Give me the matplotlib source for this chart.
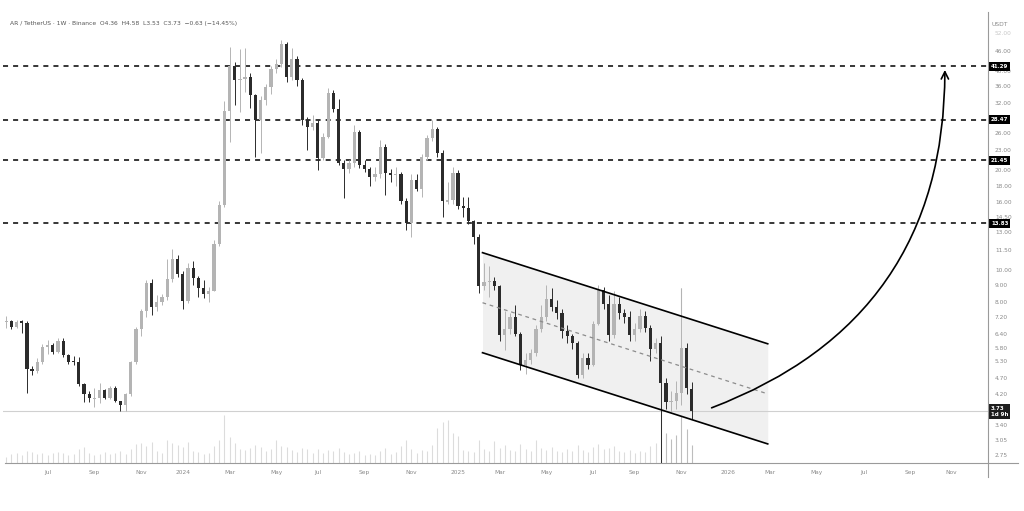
import numpy as np
import pandas as pd
import matplotlib
matplotlib.use("Agg")
import matplotlib.pyplot as plt
from matplotlib.patches import FancyArrowPatch
from matplotlib.lines import Line2D

# weekly AR/USDT candles, first week starts 2023-05-08
start_week = "2023-05-08"

opens = [6.95, 7.00, 6.70, 7.00, 6.90, 5.00, 4.93, 5.25, 5.85, 5.92,
         5.65, 6.10, 5.52, 5.26, 5.25, 4.51, 4.20, 4.07, 4.09, 4.32,
         4.09, 4.40, 4.01, 3.90, 4.20, 5.26, 6.62, 7.50, 9.13, 7.72,
         8.00, 8.27, 9.40, 10.80, 9.71, 8.05, 10.13, 9.44, 8.81, 8.45,
         8.63, 11.97, 15.70, 30.30, 41.40, 37.60, 37.90, 38.40, 33.80, 28.40,
         32.70, 35.80, 40.60, 42.00, 48.30, 38.40, 43.50, 37.60, 28.40, 27.10,
         27.80, 21.80, 25.30, 34.30, 30.70, 21.10, 20.20, 21.10, 26.20, 20.80,
         20.20, 19.10, 19.50, 23.60, 19.60, 19.40, 19.50, 16.20, 13.83, 18.70,
         17.60, 22.00, 25.10, 26.70, 22.60, 16.10, 16.30, 19.60, 15.60, 15.40,
         14.05, 12.60, 8.94, 9.19, 9.25, 8.94, 6.35, 6.62, 7.20, 6.40,
         5.15, 5.33, 5.60, 6.62, 7.20, 8.16, 7.72, 7.40, 6.53, 6.31,
         6.00, 4.80, 5.41, 5.15, 6.86, 8.69, 7.88, 6.35, 7.88, 7.40,
         7.20, 6.35, 6.62, 7.25, 6.67, 5.76, 6.00, 4.54, 3.98, 4.01,
         4.23, 5.80, 4.36]
highs = [7.25, 7.05, 7.05, 7.05, 7.00, 5.10, 5.40, 5.95, 6.15, 6.00,
         6.20, 6.20, 5.55, 5.50, 5.45, 4.55, 4.30, 4.38, 4.55, 4.35,
         4.45, 4.45, 4.02, 4.25, 5.30, 6.70, 7.60, 9.30, 9.40, 8.40,
         8.45, 10.80, 11.60, 11.10, 9.90, 10.50, 10.60, 9.60, 9.30, 8.90,
         12.30, 16.20, 32.50, 47.30, 42.50, 46.50, 47.00, 39.50, 34.00, 33.50,
         36.50, 41.50, 43.50, 49.70, 49.00, 47.00, 44.50, 38.00, 29.00, 29.50,
         28.50, 26.00, 35.50, 35.00, 33.00, 21.50, 21.50, 27.50, 26.50, 21.50,
         20.50, 20.50, 24.80, 24.00, 20.20, 20.50, 19.80, 16.50, 19.50, 19.50,
         22.50, 25.60, 28.50, 27.00, 23.00, 18.50, 20.50, 20.00, 16.60, 16.60,
         14.20, 12.80, 10.50, 10.30, 9.50, 9.00, 7.50, 7.40, 7.80, 6.50,
         5.60, 5.75, 6.80, 7.80, 9.00, 8.80, 8.10, 7.60, 6.80, 6.40,
         6.10, 5.60, 5.60, 7.00, 9.00, 8.90, 8.40, 8.60, 8.30, 7.60,
         7.50, 6.90, 7.60, 7.50, 6.80, 6.20, 6.30, 4.70, 4.30, 4.60,
         8.80, 6.00, 4.58]
lows = [6.65, 6.60, 6.65, 6.45, 4.23, 4.80, 4.88, 5.20, 5.55, 5.55,
        5.60, 5.45, 5.20, 5.15, 4.45, 3.98, 3.98, 3.85, 3.95, 4.05,
        4.05, 3.98, 3.73, 3.73, 4.15, 5.20, 6.30, 7.20, 7.30, 7.50,
        7.80, 8.10, 9.20, 9.50, 7.60, 7.95, 9.00, 8.30, 8.20, 8.00,
        8.60, 11.80, 15.50, 24.40, 31.60, 30.00, 34.50, 31.00, 22.00, 22.60,
        31.50, 34.00, 39.50, 41.00, 37.00, 37.50, 36.00, 27.50, 23.00, 26.50,
        20.00, 21.50, 25.00, 30.00, 20.80, 16.50, 19.60, 20.50, 20.30, 19.80,
        18.00, 18.60, 19.00, 16.80, 18.50, 18.00, 15.80, 13.20, 12.60, 17.30,
        16.60, 21.50, 24.60, 22.00, 14.45, 15.80, 15.80, 15.30, 14.50, 13.80,
        12.00, 8.50, 8.70, 8.30, 8.70, 6.10, 5.70, 6.40, 6.30, 4.98,
        4.85, 5.20, 5.50, 6.50, 7.00, 7.50, 7.10, 6.20, 6.00, 5.75,
        4.70, 4.70, 5.00, 5.10, 6.80, 7.60, 6.10, 6.20, 7.10, 6.90,
        6.10, 6.10, 6.50, 6.50, 5.30, 5.60, 1.60, 3.80, 3.70, 3.80,
        3.90, 4.20, 3.53]
closes = [7.00, 6.70, 6.95, 6.90, 5.00, 4.93, 5.25, 5.85, 5.92, 5.65,
          6.10, 5.52, 5.26, 5.25, 4.51, 4.20, 4.09, 4.09, 4.32, 4.09,
          4.40, 4.01, 3.90, 4.20, 5.26, 6.62, 7.50, 9.13, 7.72, 8.00,
          8.27, 9.40, 10.80, 9.71, 8.05, 10.13, 9.44, 8.81, 8.45, 8.63,
          11.97, 15.70, 30.30, 41.40, 37.60, 37.90, 38.40, 33.80, 28.40, 32.70,
          35.80, 40.60, 42.00, 48.30, 38.40, 43.50, 37.60, 28.40, 27.10, 27.80,
          21.80, 25.30, 34.30, 30.70, 21.10, 20.20, 21.10, 26.20, 20.80, 20.20,
          19.10, 19.50, 23.60, 19.60, 19.40, 19.50, 16.20, 13.83, 18.70, 17.60,
          22.00, 25.10, 26.70, 22.60, 16.20, 16.30, 19.60, 15.60, 15.40, 14.05,
          12.60, 8.94, 9.19, 9.25, 8.94, 6.35, 6.62, 7.20, 6.40, 5.15,
          5.33, 5.60, 6.62, 7.20, 8.16, 7.72, 7.40, 6.53, 6.31, 6.00,
          4.80, 5.41, 5.15, 6.86, 8.69, 7.88, 6.35, 7.88, 7.40, 7.20,
          6.35, 6.62, 7.25, 6.67, 5.76, 6.00, 4.54, 3.98, 4.01, 4.23,
          5.80, 4.38, 3.73]
volumes = [6, 9, 10, 8, 12, 11, 9, 10, 8, 10,
           11, 10, 8, 9, 14, 16, 10, 8, 9, 11,
           9, 10, 12, 9, 14, 19, 20, 17, 21, 12,
           10, 23, 20, 18, 16, 21, 12, 11, 9, 10,
           17, 23, 48, 26, 20, 14, 13, 15, 18, 16,
           12, 14, 23, 17, 16, 13, 11, 15, 14, 10,
           14, 10, 13, 12, 15, 11, 9, 10, 12, 8,
           9, 8, 12, 15, 9, 11, 17, 23, 14, 10,
           13, 12, 18, 35, 41, 43, 30, 27, 13, 12,
           11, 23, 14, 12, 22, 15, 18, 13, 12, 19,
           14, 12, 23, 15, 13, 16, 12, 11, 14, 12,
           18, 13, 11, 16, 19, 14, 15, 17, 12, 11,
           13, 10, 12, 11, 17, 20, 60, 30, 24, 28,
           175, 34, 18]

levels = [41.29, 28.47, 21.45, 13.83]
# 28.00 and 3.80 sit under the value tags, so they are left out
price_ticks = [52, 46, 40, 36, 32, 26, 23, 20, 18, 16, 14.5, 13, 11.5,
               10, 9, 8, 7.2, 6.4, 5.8, 5.3, 4.7, 4.2, 3.4, 3.05, 2.75]
last_price = 3.73
countdown = "1d 9h"
title = "AR / TetherUS · 1W · Binance  O4.36  H4.58  L3.53  C3.73  −0.63 (−14.45%)"

# descending channel (week index, price)
channel_x = [91.7, 146.6]
channel_upper = [11.27, 5.97]
channel_mid = [7.95, 4.21]
channel_lower = [5.61, 2.97]
arrow_start = (135.8, 3.82)
arrow_end = (180.7, 40.3)

x_min, x_max = -0.6, 189.0
y_min, y_max = 2.60, 61.2

UP = '#b4b4b4'
DOWN = '#2b2b2b'
TXT = '#8a8a8a'

fig = plt.figure(figsize=(10.24, 5.11), dpi=100)
rect = [3 / 1024, 48 / 511, 985 / 1024, 453 / 511]

# volume pane behind the price pane
vax = fig.add_axes(rect)
vax.set_xlim(x_min, x_max)
vax.set_ylim(0, 453)
vax.axis('off')

ax = fig.add_axes(rect)
ax.patch.set_visible(False)
ax.set_yscale('log')
ax.set_xlim(x_min, x_max)
ax.set_ylim(y_min, y_max)

o = np.array(opens)
h = np.array(highs)
l = np.array(lows)
c = np.array(closes)
xs = np.arange(len(o))
up = c >= o
cols = np.where(up, UP, DOWN)

vax.vlines(xs, 0, volumes, colors=np.where(xs > 125, '#bdbdbd', '#dcdcdc'), linewidth=0.8)

# channel
ax.fill_between(channel_x, channel_lower, channel_upper, color='#f0f0f0', zorder=1, linewidth=0)
ax.plot(channel_x, channel_upper, color='black', lw=1.2, zorder=5)
ax.plot(channel_x, channel_lower, color='black', lw=1.2, zorder=5)
ax.plot(channel_x, channel_mid, color='#8c8c8c', lw=0.9, dashes=(3, 3), zorder=5)

# levels
for lv in levels:
    ax.axhline(lv, color='black', lw=1.1, dashes=(3.3, 3.3), zorder=2)
ax.axhline(last_price, color='#d0d0d0', lw=0.8, zorder=2)

# candles
ax.vlines(xs, l, h, colors=cols, linewidth=0.7, zorder=3)
body = np.maximum(np.abs(c - o), o * 0.008)
ax.bar(xs, body, bottom=np.minimum(o, c), width=0.62, color=cols, linewidth=0, zorder=4)

# arrow
arr = FancyArrowPatch(arrow_start, arrow_end, connectionstyle='arc3,rad=0.345',
                      arrowstyle='->', mutation_scale=13, color='black', lw=1.2,
                      shrinkA=0, shrinkB=0, zorder=6)
ax.add_patch(arr)

# price axis on the right
for s in ax.spines.values():
    s.set_visible(False)
ax.yaxis.tick_right()
ax.set_yticks(price_ticks)
ax.set_yticklabels(['%.2f' % t for t in price_ticks])
ax.yaxis.set_minor_locator(matplotlib.ticker.NullLocator())
ax.tick_params(axis='y', length=0, pad=5, labelsize=4.2, labelcolor=TXT)
ax.get_yticklabels()[0].set_color('#c8c8c8')

# time axis
weeks = pd.date_range(start_week, periods=int(x_max) + 2, freq='7D')
tick_pos, tick_lab = [], []
for i in range(1, len(weeks)):
    if weeks[i].month != weeks[i - 1].month and weeks[i].month % 2 == 1:
        tick_pos.append(i)
        tick_lab.append(str(weeks[i].year) if weeks[i].month == 1 else weeks[i].strftime('%b'))
ax.set_xticks(tick_pos)
ax.set_xticklabels(tick_lab)
ax.tick_params(axis='x', length=0, pad=5, labelsize=4.2, labelcolor=TXT)

# value tags
tag_kw = dict(xycoords=('axes fraction', 'data'), ha='left', color='white',
              fontsize=4.0, fontweight='bold', annotation_clip=False, zorder=10)
for lv in levels:
    ax.annotate('%.2f' % lv, (1.003, lv), va='center',
                bbox=dict(boxstyle='square,pad=0.35', fc='black', ec='none'), **tag_kw)
ax.annotate('%.2f\n%s' % (last_price, countdown), (1.003, last_price), va='top',
            xytext=(0, 3.5), textcoords='offset points', linespacing=1.25,
            bbox=dict(boxstyle='square,pad=0.35', fc='#1e1e1e', ec='none'), **tag_kw)

fig.text(1000 / 1024, 1 - 25 / 511, 'USDT', fontsize=4.3, color=TXT, ha='center', va='center')
fig.text(10 / 1024, 1 - 23 / 511, title, fontsize=4.3, color='#555555', ha='left', va='center')

# frame lines
fig.add_artist(Line2D([5 / 1024, 1018 / 1024], [48 / 511, 48 / 511], color='#9a9a9a', lw=0.8))
fig.add_artist(Line2D([988 / 1024, 988 / 1024], [1 - 12 / 511, 1 - 477 / 511], color='#9a9a9a', lw=0.8))

fig.savefig('out.png', dpi=100, facecolor='white')
